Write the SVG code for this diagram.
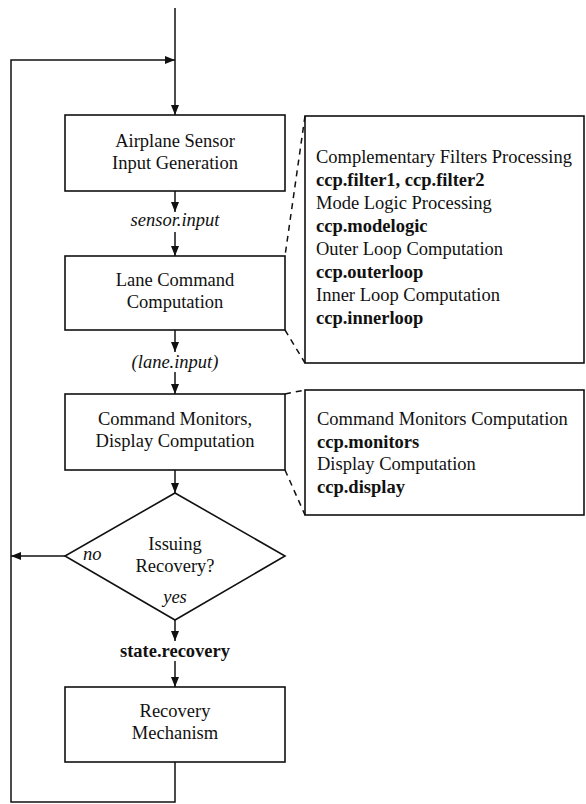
<svg xmlns="http://www.w3.org/2000/svg" width="586" height="804" viewBox="0 0 586 804">
  <style>
    .box { fill: #fff; stroke: #111; stroke-width: 1.6; }
    .line { fill: none; stroke: #111; stroke-width: 1.5; }
    .dash { fill: none; stroke: #111; stroke-width: 1.5; stroke-dasharray: 6 5; }
    .lbl { font-family: "Liberation Serif", "Times New Roman", serif; font-size: 18.5px; fill: #111; }
    .c { text-anchor: middle; }
    .b { font-weight: bold; }
    .i { font-style: italic; }
  </style>
  <defs>
    <marker id="arrow" viewBox="0 0 10 8" refX="10" refY="4" markerWidth="10" markerHeight="8" markerUnits="userSpaceOnUse" orient="auto">
      <path d="M0,0 L10,4 L0,8 Z" fill="#111"/>
    </marker>
  </defs>

  <g id="sensor-input">
    <rect class="box" x="65" y="115" width="220" height="76"/>
    <text class="lbl c" x="175" y="147">Airplane Sensor</text>
    <text class="lbl c" x="175" y="169">Input Generation</text>
  </g>

  <g id="lane-command">
    <rect class="box" x="65" y="256" width="220" height="74"/>
    <text class="lbl c" x="175" y="286">Lane Command</text>
    <text class="lbl c" x="175" y="308">Computation</text>
  </g>

  <g id="monitors-display">
    <rect class="box" x="65" y="394" width="220" height="76"/>
    <text class="lbl c" x="175" y="425">Command Monitors,</text>
    <text class="lbl c" x="175" y="447">Display Computation</text>
  </g>

  <g id="issuing-recovery">
    <polygon class="box" points="175,493 285,556 175,620 65,556"/>
    <text class="lbl c" x="175" y="550">Issuing</text>
    <text class="lbl c" x="175" y="572">Recovery?</text>
  </g>

  <g id="recovery-mechanism">
    <rect class="box" x="65" y="687" width="220" height="75"/>
    <text class="lbl c" x="175" y="717">Recovery</text>
    <text class="lbl c" x="175" y="739">Mechanism</text>
  </g>

  <g id="lane-detail">
    <rect class="box" x="305" y="116" width="279" height="247"/>
    <text class="lbl" x="316" y="163">Complementary Filters Processing</text>
    <text class="lbl b" x="316" y="186">ccp.filter1, ccp.filter2</text>
    <text class="lbl" x="316" y="209">Mode Logic Processing</text>
    <text class="lbl b" x="316" y="232">ccp.modelogic</text>
    <text class="lbl" x="316" y="255">Outer Loop Computation</text>
    <text class="lbl b" x="316" y="278">ccp.outerloop</text>
    <text class="lbl" x="316" y="301">Inner Loop Computation</text>
    <text class="lbl b" x="316" y="324">ccp.innerloop</text>
  </g>

  <g id="monitors-detail">
    <rect class="box" x="305" y="390" width="279" height="125"/>
    <text class="lbl" x="317" y="425">Command Monitors Computation</text>
    <text class="lbl b" x="317" y="448">ccp.monitors</text>
    <text class="lbl" x="317" y="470">Display Computation</text>
    <text class="lbl b" x="317" y="493">ccp.display</text>
  </g>

  <!-- connectors and their labels, drawn over the nodes -->
  <g id="connectors">
    <line class="line" x1="175" y1="8" x2="175" y2="115" marker-end="url(#arrow)"/>
    <polyline class="line" points="175,762 175,802 11,802 11,60 175,60" marker-end="url(#arrow)"/>
    <line class="line" x1="175" y1="191" x2="175" y2="212" marker-end="url(#arrow)"/>
    <line class="line" x1="175" y1="232" x2="175" y2="256" marker-end="url(#arrow)"/>
    <line class="line" x1="175" y1="330" x2="175" y2="352" marker-end="url(#arrow)"/>
    <line class="line" x1="175" y1="372" x2="175" y2="394" marker-end="url(#arrow)"/>
    <line class="line" x1="175" y1="470" x2="175" y2="493" marker-end="url(#arrow)"/>
    <line class="line" x1="65" y1="556" x2="11" y2="556" marker-end="url(#arrow)"/>
    <line class="line" x1="175" y1="620" x2="175" y2="641" marker-end="url(#arrow)"/>
    <line class="line" x1="175" y1="661" x2="175" y2="687" marker-end="url(#arrow)"/>
    <!-- detail call-outs -->
    <line class="dash" x1="305" y1="116" x2="285" y2="256"/>
    <line class="dash" x1="285" y1="330" x2="305" y2="363"/>
    <line class="dash" x1="285" y1="394" x2="305" y2="390"/>
    <line class="dash" x1="285" y1="470" x2="305" y2="515"/>
    <text class="lbl i c" x="175" y="226">sensor.input</text>
    <text class="lbl i c" x="175" y="368">(lane.input)</text>
    <text class="lbl i" x="83" y="560">no</text>
    <text class="lbl i c" x="175" y="603">yes</text>
    <text class="lbl b c" x="175" y="657">state.recovery</text>
  </g>
</svg>
